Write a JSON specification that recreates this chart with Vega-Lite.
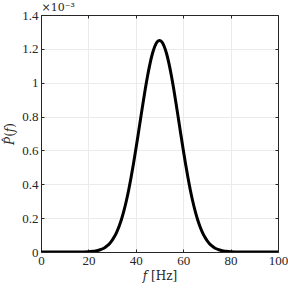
{
  "$schema": "https://vega.github.io/schema/vega-lite/v6.json",
  "width": 237,
  "height": 237,
  "autosize": {"type": "none"},
  "padding": {"left": 41, "top": 15, "right": 10, "bottom": 36},
  "background": "white",
  "config": {
    "view": {"stroke": "#262626", "strokeWidth": 1},
    "axis": {
      "labelFont": "Liberation Serif", "labelFontSize": 13, "labelColor": "#262626", "labelFlush": false,
      "titleFont": "DejaVu Serif", "titleFontSize": 12, "titleFontWeight": "normal", "titleColor": "#262626",
      "domainColor": "#262626", "tickColor": "#262626", "tickSize": -3, "gridColor": "#ebebeb", "gridOpacity": 1
    }
  },
  "data": {"values": [
    {"f": 0, "P": 0}, {"f": 5, "P": 0}, {"f": 10, "P": 0}, {"f": 12, "P": 0.0001}, {"f": 15, "P": 0.0002},
    {"f": 18, "P": 0.0007}, {"f": 20, "P": 0.0018}, {"f": 21, "P": 0.0028}, {"f": 22, "P": 0.0042}, {"f": 23, "P": 0.0063},
    {"f": 24, "P": 0.0093}, {"f": 25, "P": 0.0134}, {"f": 26, "P": 0.0191}, {"f": 27, "P": 0.0269}, {"f": 28, "P": 0.0373},
    {"f": 29, "P": 0.0509}, {"f": 30, "P": 0.0686}, {"f": 31, "P": 0.0910}, {"f": 32, "P": 0.1191}, {"f": 33, "P": 0.1535},
    {"f": 34, "P": 0.1950}, {"f": 35, "P": 0.2442}, {"f": 36, "P": 0.3014}, {"f": 37, "P": 0.3667}, {"f": 38, "P": 0.4396},
    {"f": 39, "P": 0.5195}, {"f": 40, "P": 0.6050}, {"f": 41, "P": 0.6944}, {"f": 42, "P": 0.7856}, {"f": 43, "P": 0.8759},
    {"f": 44, "P": 0.9626}, {"f": 45, "P": 1.0426}, {"f": 46, "P": 1.1130}, {"f": 47, "P": 1.1710}, {"f": 48, "P": 1.2142},
    {"f": 49, "P": 1.2410}, {"f": 50, "P": 1.2500}, {"f": 51, "P": 1.2410}, {"f": 52, "P": 1.2142}, {"f": 53, "P": 1.1710},
    {"f": 54, "P": 1.1130}, {"f": 55, "P": 1.0426}, {"f": 56, "P": 0.9626}, {"f": 57, "P": 0.8759}, {"f": 58, "P": 0.7856},
    {"f": 59, "P": 0.6944}, {"f": 60, "P": 0.6050}, {"f": 61, "P": 0.5195}, {"f": 62, "P": 0.4396}, {"f": 63, "P": 0.3667},
    {"f": 64, "P": 0.3014}, {"f": 65, "P": 0.2442}, {"f": 66, "P": 0.1950}, {"f": 67, "P": 0.1535}, {"f": 68, "P": 0.1191},
    {"f": 69, "P": 0.0910}, {"f": 70, "P": 0.0686}, {"f": 71, "P": 0.0509}, {"f": 72, "P": 0.0373}, {"f": 73, "P": 0.0269},
    {"f": 74, "P": 0.0191}, {"f": 75, "P": 0.0134}, {"f": 76, "P": 0.0093}, {"f": 77, "P": 0.0063}, {"f": 78, "P": 0.0042},
    {"f": 79, "P": 0.0028}, {"f": 80, "P": 0.0018}, {"f": 82, "P": 0.0007}, {"f": 85, "P": 0.0002}, {"f": 88, "P": 0.0001},
    {"f": 90, "P": 0}, {"f": 95, "P": 0}, {"f": 100, "P": 0}
  ]},
  "layer": [
    {
      "mark": {"type": "line", "color": "black", "strokeWidth": 3, "interpolate": "monotone", "clip": true},
      "encoding": {
        "x": {"field": "f", "type": "quantitative", "scale": {"domain": [0, 100], "nice": false},
              "axis": {"values": [0, 20, 40, 60, 80, 100], "title": "𝑓 [Hz]", "labelPadding": 5, "titlePadding": 3}},
        "y": {"field": "P", "type": "quantitative", "scale": {"domain": [0, 1.4], "nice": false},
              "axis": {"values": [0, 0.2, 0.4, 0.6, 0.8, 1, 1.2, 1.4], "format": "~g", "title": "𝑃̂(𝑓)", "labelPadding": 6, "titlePadding": 5}}
      }
    },
    {
      "mark": {"type": "line", "strokeOpacity": 0},
      "encoding": {
        "x": {"field": "f", "type": "quantitative", "scale": {"domain": [0, 100], "nice": false},
              "axis": {"orient": "top", "values": [0, 20, 40, 60, 80, 100], "labels": false, "grid": false,
                       "title": "×10⁻³", "titleAnchor": "start", "titleAlign": "left", "titleFontSize": 11, "titlePadding": 2, "titleFont": "DejaVu Serif"}},
        "y": {"field": "P", "type": "quantitative", "scale": {"domain": [0, 1.4], "nice": false},
              "axis": {"orient": "right", "values": [0, 0.2, 0.4, 0.6, 0.8, 1, 1.2, 1.4], "labels": false, "title": null, "grid": false}}
      }
    }
  ],
  "resolve": {"axis": {"x": "independent", "y": "independent"}}
}
